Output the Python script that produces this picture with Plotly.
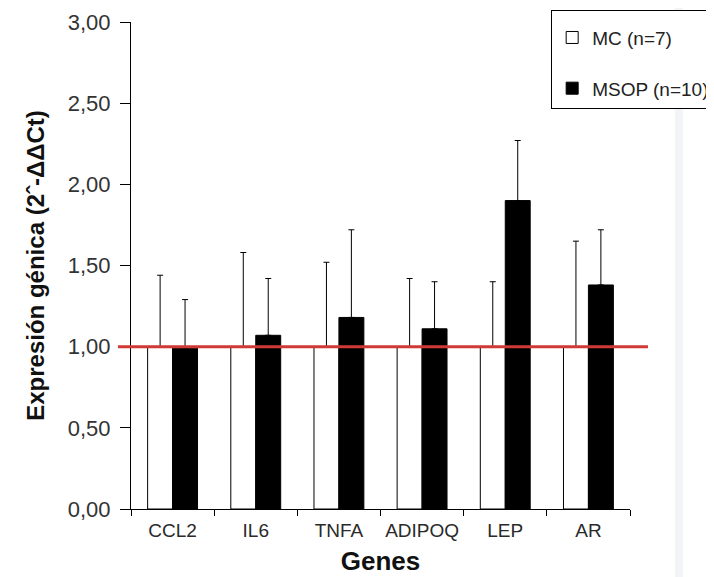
import plotly.graph_objects as go

genes = ["CCL2", "IL6", "TNFA", "ADIPOQ", "LEP", "AR"]
mc_values = [1.00, 1.00, 1.00, 1.00, 1.00, 1.00]
mc_err = [0.44, 0.58, 0.52, 0.42, 0.40, 0.65]
msop_values = [0.99, 1.07, 1.18, 1.11, 1.90, 1.38]
msop_err = [0.30, 0.35, 0.54, 0.29, 0.37, 0.34]
y_ticks = [0, 0.5, 1.0, 1.5, 2.0, 2.5, 3.0]
ref_value = 1.0

fig = go.Figure()
fig.add_trace(go.Bar(
    name="MC (n=7)", x=genes, y=mc_values, legendgroup="a",
    marker=dict(color="white", line=dict(color="black", width=1)),
    error_y=dict(type="data", array=mc_err, arrayminus=[0]*len(genes), symmetric=False,
                 color="black", thickness=1, width=3),
))
fig.add_trace(go.Bar(
    name="MSOP (n=10)", x=genes, y=msop_values, legendgroup="b",
    marker=dict(color="black", line=dict(color="black", width=1)),
    error_y=dict(type="data", array=msop_err, arrayminus=[0]*len(genes), symmetric=False,
                 color="black", thickness=1, width=3),
))

fig.add_shape(type="line", xref="paper", yref="y", x0=-0.026, x1=1.036,
              y0=ref_value, y1=ref_value, line=dict(color="#d03a36", width=3))
fig.add_shape(type="rect", xref="paper", yref="paper", x0=1.090, x1=1.106, y0=-0.2, y1=1.1,
              line=dict(width=0), fillcolor="rgba(215,220,230,0.3)", layer="below")

fig.update_layout(
    width=714, height=577,
    margin=dict(l=123, r=92, t=14, b=76, autoexpand=False),
    paper_bgcolor="white", plot_bgcolor="white",
    barmode="group", bargap=0.4, bargroupgap=0,
    separators=",.",
    font=dict(family="Liberation Sans, Arial", color="#222"),
    showlegend=True,
    legend=dict(x=0.842, y=1.025, xanchor="left", yanchor="top",
                bordercolor="black", borderwidth=1, bgcolor="white",
                font=dict(size=19, color="#222"), tracegroupgap=23,
                itemwidth=30,
                title=dict(text=" ", font=dict(size=6))),
    xaxis=dict(showline=True, linecolor="black", linewidth=1, ticks="outside",
               tickson="boundaries", ticklen=6, tickcolor="black",
               ticklabelstandoff=4,
               tickfont=dict(size=19, color="#2a2a2a"),
               title=dict(text="<b>Genes</b>", font=dict(size=26, color="#111"), standoff=12)),
    yaxis=dict(range=[0, 3], tickvals=y_ticks, tickformat=".2f", showline=True,
               linecolor="black", linewidth=1, ticks="outside", ticklen=10, tickcolor="black",
               ticklabelstandoff=5,
               showgrid=False, zeroline=False,
               tickfont=dict(size=22, color="#333"),
               title=dict(text="<b>Expresión génica (2ˆ-ΔΔCt)</b>", font=dict(size=24, color="#111"), standoff=16)),
)

fig.write_html("out.html")
